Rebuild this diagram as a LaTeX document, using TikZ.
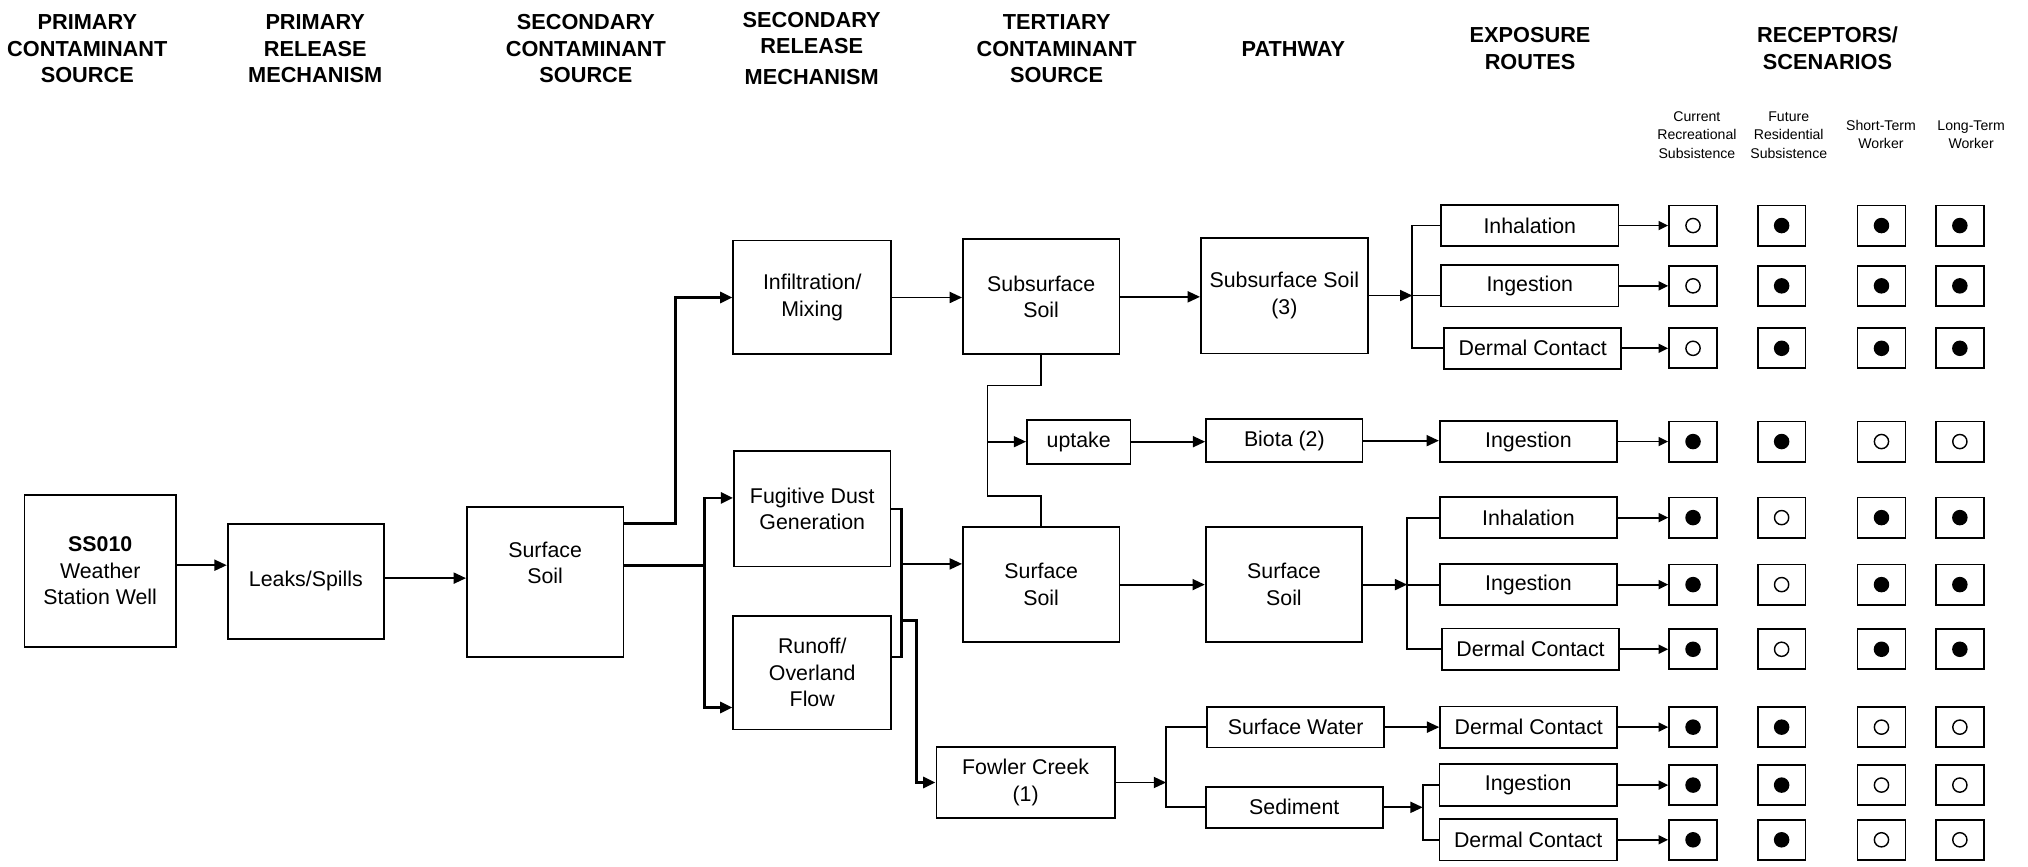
\documentclass[tikz,border=0pt]{standalone}
\usepackage{fontspec}
\setmainfont{Liberation Sans}
\usepackage{tikz}
\usetikzlibrary{arrows.meta}

\begin{document}
\begin{tikzpicture}[x=1pt, y=-1pt,
  box/.style={draw, line width=1.4pt, align=center, inner sep=0pt, font=\fontsize{16.5}{20.5}\selectfont},
  route/.style={box, minimum width=137pt, minimum height=32pt},
  hdr/.style={align=center, font=\bfseries\fontsize{16.8}{20.6}\selectfont},
  subhdr/.style={align=center, font=\fontsize{10.9}{14.2}\selectfont},
  rec/.style={draw, line width=1.4pt, minimum width=37pt, minimum height=31pt, inner sep=0pt},
  conn/.style={line width=1.4pt},
  heavy/.style={line width=2.2pt},
  flow/.style={conn, -{Triangle[length=9.5pt, width=8.5pt]}},
  hit/.style={conn, -{Triangle[length=7.5pt, width=7pt]}}]

\useasboundingbox (0,0) rectangle (1568,670);

% column headings
\node[hdr] (hA) at (67.5,37.6) {PRIMARY\\CONTAMINANT\\SOURCE};
\node[hdr] (hB) at (243.7,37.6) {PRIMARY\\RELEASE\\MECHANISM};
\node[hdr] (hC) at (453,37.6) {SECONDARY\\CONTAMINANT\\SOURCE};
\node[hdr] (hD) at (627.6,37.4) {SECONDARY\\RELEASE\\[3pt]MECHANISM};
\node[hdr] (hE) at (817,37.6) {TERTIARY\\CONTAMINANT\\SOURCE};
\node[hdr] (hF) at (1000,38) {PATHWAY};
\node[hdr] (hG) at (1183,37.5) {EXPOSURE\\ROUTES};
\node[hdr] (hH) at (1413,37.5) {RECEPTORS/\\SCENARIOS};

\node[subhdr] (sA) at (1312,104.4) {Current\\Recreational\\Subsistence};
\node[subhdr] (sB) at (1383,104.4) {Future\\Residential\\Subsistence};
\node[subhdr] (sC) at (1454.3,104) {Short-Term\\Worker};
\node[subhdr] (sD) at (1524,104) {Long-Term\\Worker};

% sources and release mechanisms
\node[box, minimum width=117pt, minimum height=117pt] (well) at (77.5,441.5) {\textbf{SS010}\\Weather\\Station Well};
\node[box, minimum width=121pt, minimum height=89pt] (leaks) at (236.5,449.5) {Leaks/Spills};
\node[box, minimum width=121pt, minimum height=116pt] (soilA) at (421.5,450)
  {\raisebox{13pt}[\height][\depth]{\begin{tabular}{@{}c@{}}Surface\\Soil\end{tabular}}};
\node[box, minimum width=122pt, minimum height=88pt] (infil) at (628,230) {Infiltration/\\Mixing};
\node[box, minimum width=121pt, minimum height=89pt] (dust) at (628,393.5) {Fugitive Dust\\Generation};
\node[box, minimum width=122pt, minimum height=88pt] (runoff) at (628,520) {Runoff/\\Overland\\Flow};
\node[box, minimum width=121pt, minimum height=89pt] (subsoilA) at (805,229.5) {Subsurface\\Soil};
\node[box, minimum width=121pt, minimum height=89pt] (soilB) at (805,452) {Surface\\Soil};
\node[box, minimum width=80pt, minimum height=34pt] (uptake) at (834,341.5) {uptake};
\node[box, minimum width=138pt, minimum height=54.5pt] (creek) at (793,605) {Fowler Creek\\(1)};

% pathways
\node[box, minimum width=129pt, minimum height=89.5pt] (subsoilB) at (993,228.5) {Subsurface Soil\\(3)};
\node[box, minimum width=121pt, minimum height=33pt] (biota) at (993,340.7) {Biota (2)};
\node[box, minimum width=121pt, minimum height=89pt] (soilC) at (992.7,452) {Surface\\Soil};
\node[box, minimum width=137pt, minimum height=31.6pt] (water) at (1001.7,562.2) {Surface Water};
\node[box, minimum width=137pt, minimum height=32pt] (sediment) at (1000.7,624.2) {Sediment};

% exposure routes
\node[route] (route1) at (1182.8,174.4) {Inhalation};
\node[route] (route2) at (1182.8,221) {Ingestion};
\node[route] (route3) at (1185.1,269.3) {Dermal Contact};
\node[route] (route4) at (1181.7,341.4) {Ingestion};
\node[route] (route5) at (1181.7,400.2) {Inhalation};
\node[route] (route6) at (1181.7,452) {Ingestion};
\node[route] (route7) at (1183.4,502) {Dermal Contact};
\node[route] (route8) at (1182,562.2) {Dermal Contact};
\node[route] (route9) at (1181.5,607) {Ingestion};
\node[route] (route10) at (1181.5,649.3) {Dermal Contact};

% receptors
\foreach \y [count=\r] in {174.4,221,269.3,341.4,400.2,452,502,562.2,607,649.3}
  \foreach \x [count=\c] in {1309,1377.5,1454.7,1515.3}
    \node[rec] (rec-\r-\c) at (\x,\y) {};

\foreach \n in {1-2,1-3,1-4,2-2,2-3,2-4,3-2,3-3,3-4,4-1,4-2,5-1,5-3,5-4,6-1,6-3,6-4,7-1,7-3,7-4,8-1,8-2,9-1,9-2,10-1,10-2}
  \fill (rec-\n) circle[radius=6];
\foreach \n in {1-1,2-1,3-1,4-3,4-4,5-2,6-2,7-2,8-3,8-4,9-3,9-4,10-3,10-4}
  \draw[line width=1.1pt] (rec-\n) circle[radius=5.5];

\foreach \r in {1,...,10}
  \draw[hit] (route\r.east) -- (rec-\r-1.west);

% connectors
\draw[flow] ([yshift=4.5pt]well.east) -- ([yshift=4.5pt]well.east -| leaks.west);
\draw[flow] ([yshift=2.5pt]leaks.east) -- ([yshift=2.5pt]leaks.east -| soilA.west);

\coordinate (jA) at (522,405);
\draw[flow, heavy] ([yshift=45pt]soilA.east) -- (jA) |- (infil.west);
\coordinate (jB) at (545,437);
\draw[heavy] ([yshift=13pt]soilA.east) -- (jB);
\draw[flow, heavy] (jB) |- ([yshift=8.5pt]dust.west);
\draw[flow, heavy] (jB) |- ([yshift=-27pt]runoff.west);

\coordinate (jC) at (697,436);
\draw[heavy] (dust.east) -| (jC) |- ([yshift=12pt]runoff.east);
\draw[flow] (jC) -- (jC -| soilB.west);
\coordinate (jD) at (697,479.5);
\coordinate (jE) at (708.7,479.5);
\draw[flow, heavy] (jD) -- (jE) |- (creek.west);

\draw[flow] (infil.east) -- (infil.east -| subsoilA.west);
\draw[flow] (subsoilA.east) -- (subsoilA.east -| subsoilB.west);

\coordinate (jF) at (763.5,298);
\coordinate (jG) at (763.5,383.5);
\draw[conn] (subsoilA.south) |- (jF) -- (jG) -| (soilB.north);
\draw[flow] (jG |- uptake.west) -- (uptake.west);
\draw[flow] (uptake.east) -- (uptake.east -| biota.west);
\draw[flow] (biota.east) -- (biota.east -| route4.west);
\draw[flow] (soilB.east) -- (soilC.west);

\coordinate (jH) at (1092,228.5);
\draw[flow] (subsoilB.east) -- (jH);
\draw[conn] (route1.west) -| (jH) |- (route3.west);
\draw[conn] (jH) -- (jH -| route2.west);

\coordinate (jI) at (1088,452);
\draw[flow] (soilC.east) -- (jI);
\draw[conn] (route5.west) -| (jI) |- (route7.west);
\draw[conn] (jI) -- (route6.west);

\coordinate (jJ) at (901.6,605);
\draw[flow] (creek.east) -- (jJ);
\draw[conn] (water.west) -| (jJ) |- (sediment.west);
\draw[flow] (water.east) -- (water.east -| route8.west);

\coordinate (jK) at (1100,624.2);
\draw[flow] (sediment.east) -- (jK);
\draw[conn] (route9.west) -| (jK) |- (route10.west);

\end{tikzpicture}
\end{document}
